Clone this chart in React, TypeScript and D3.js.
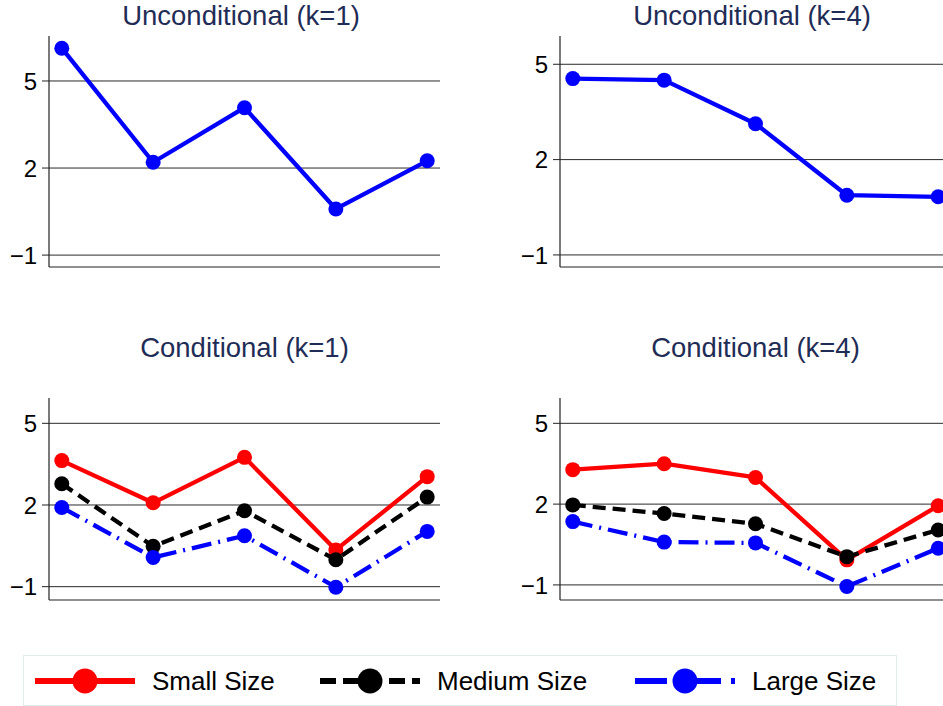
import React from 'react';
import * as d3 from 'd3';

const CATEGORIES = ['1', '2', '3', '4', '5'];

const UNCOND_K1 = [6.13, 2.2, 4.08, 0.59, 2.25];
const UNCOND_K4 = [4.55, 4.5, 3.13, 0.88, 0.83];

const COND_K1_SMALL = [3.63, 2.08, 3.75, 0.35, 3.04];
const COND_K1_MEDIUM = [2.78, 0.48, 1.79, -0.01, 2.29];
const COND_K1_LARGE = [1.91, 0.07, 0.87, -1.02, 1.03];

const COND_K4_SMALL = [3.28, 3.5, 2.99, -0.07, 1.94];
const COND_K4_MEDIUM = [1.97, 1.65, 1.27, 0.05, 1.04];
const COND_K4_LARGE = [1.35, 0.59, 0.56, -1.06, 0.36];

const Y_TICKS = [-1, 2, 5];

const SERIES_STYLE = {
  small: { name: 'Small Size', color: '#ff0000', dash: null, legendDash: null },
  medium: { name: 'Medium Size', color: '#000000', dash: '13,7', legendDash: '16,7' },
  large: { name: 'Large Size', color: '#0000ff', dash: '20,7,2,7', legendDash: '32,10,4,8' },
};
const SOLID_BLUE = { ...SERIES_STYLE.large, dash: null };

const FONT = "Helvetica, Arial, 'Liberation Sans', sans-serif";
const TITLE_COLOR = '#1f2d56';

type Style = { color: string; dash: string | null };
type Line = { values: number[]; style: Style };

type PanelProps = {
  title: string;
  x0: number; y0: number; w: number; h: number;
  titleY: number; titleShift: number;
  yDomain: [number, number];
  lines: Line[];
};

function Panel({ title, x0, y0, w, h, titleY, titleShift, yDomain, lines }: PanelProps) {
  const x = d3.scalePoint<string>().domain(CATEGORIES).range([0, w]).padding(0.14);
  const y = d3.scaleLinear().domain(yDomain).range([h, 0]);
  const line = d3.line<number>().x((_, i) => x(CATEGORIES[i]) as number).y(d => y(d));

  return (
    <g>
      <text x={x0 + w / 2 + titleShift} y={titleY} textAnchor="middle" fontSize={27.5}
        fill={TITLE_COLOR} fontFamily={FONT}>{title}</text>
      <g transform={`translate(${x0},${y0})`}>
        {Y_TICKS.map(t => (
          <g key={t}>
            <line x1={0} x2={w} y1={y(t)} y2={y(t)} stroke="#2a2a2a" strokeWidth={1} />
            <line x1={-7} x2={0} y1={y(t)} y2={y(t)} stroke="#222" strokeWidth={1} />
            <text x={-12} y={y(t)} dy="0.36em" textAnchor="end" fontSize={24} fontFamily={FONT}
              fill="#000">{t < 0 ? '\u2212' + Math.abs(t) : t}</text>
          </g>
        ))}
        <line x1={0} x2={0} y1={0} y2={h} stroke="#222" strokeWidth={1.2} />
        <line x1={0} x2={w} y1={h} y2={h} stroke="#222" strokeWidth={1.2} />
        {lines.map((l, i) => (
          <g key={i}>
            <path d={line(l.values) || ''} fill="none" stroke={l.style.color} strokeWidth={4.3}
              strokeDasharray={l.style.dash || undefined} strokeLinejoin="round" />
            {l.values.map((v, j) => (
              <circle key={j} cx={x(CATEGORIES[j])} cy={y(v)} r={7.5} fill={l.style.color} />
            ))}
          </g>
        ))}
      </g>
    </g>
  );
}

function Legend() {
  const items = [SERIES_STYLE.small, SERIES_STYLE.medium, SERIES_STYLE.large];
  // key starts follow the text widths of the preceding entries
  const starts = [35, 320, 635];
  const cy = 681;
  return (
    <g>
      <rect x={23.5} y={655.5} width={873} height={50} fill="#fff" stroke="#e3ecec" strokeWidth={1} />
      {items.map((it, i) => {
        const sx = starts[i];
        return (
          <g key={it.name}>
            <line x1={sx} x2={sx + 100} y1={cy} y2={cy} stroke={it.color} strokeWidth={6}
              strokeDasharray={it.legendDash || undefined} />
            <circle cx={sx + 50} cy={cy} r={12.5} fill={it.color} />
            <text x={sx + 117} y={690} fontSize={26} fontFamily={FONT} fill="#000">{it.name}</text>
          </g>
        );
      })}
    </g>
  );
}

export default function App() {
  return (
    <svg width={943} height={706} style={{ position: 'absolute', left: 0, top: 0, background: '#fff' }}>
      <rect width={943} height={706} fill="#fff" />
      <Panel title="Unconditional (k=1)" x0={49} y0={36} w={391} h={231} titleY={25} titleShift={-3.5}
        yDomain={[-1.41, 6.55]} lines={[{ values: UNCOND_K1, style: SOLID_BLUE }]} />
      <Panel title="Unconditional (k=4)" x0={560} y0={36} w={391} h={231} titleY={25} titleShift={-3.5}
        yDomain={[-1.38, 5.89]} lines={[{ values: UNCOND_K4, style: SOLID_BLUE }]} />
      <Panel title="Conditional (k=1)" x0={49} y0={398} w={391} h={202} titleY={357} titleShift={0}
        yDomain={[-1.49, 5.93]} lines={[
          { values: COND_K1_SMALL, style: SERIES_STYLE.small },
          { values: COND_K1_MEDIUM, style: SERIES_STYLE.medium },
          { values: COND_K1_LARGE, style: SERIES_STYLE.large },
        ]} />
      <Panel title="Conditional (k=4)" x0={560} y0={398} w={391} h={202} titleY={357} titleShift={0}
        yDomain={[-1.56, 5.94]} lines={[
          { values: COND_K4_SMALL, style: SERIES_STYLE.small },
          { values: COND_K4_MEDIUM, style: SERIES_STYLE.medium },
          { values: COND_K4_LARGE, style: SERIES_STYLE.large },
        ]} />
      <Legend />
    </svg>
  );
}
